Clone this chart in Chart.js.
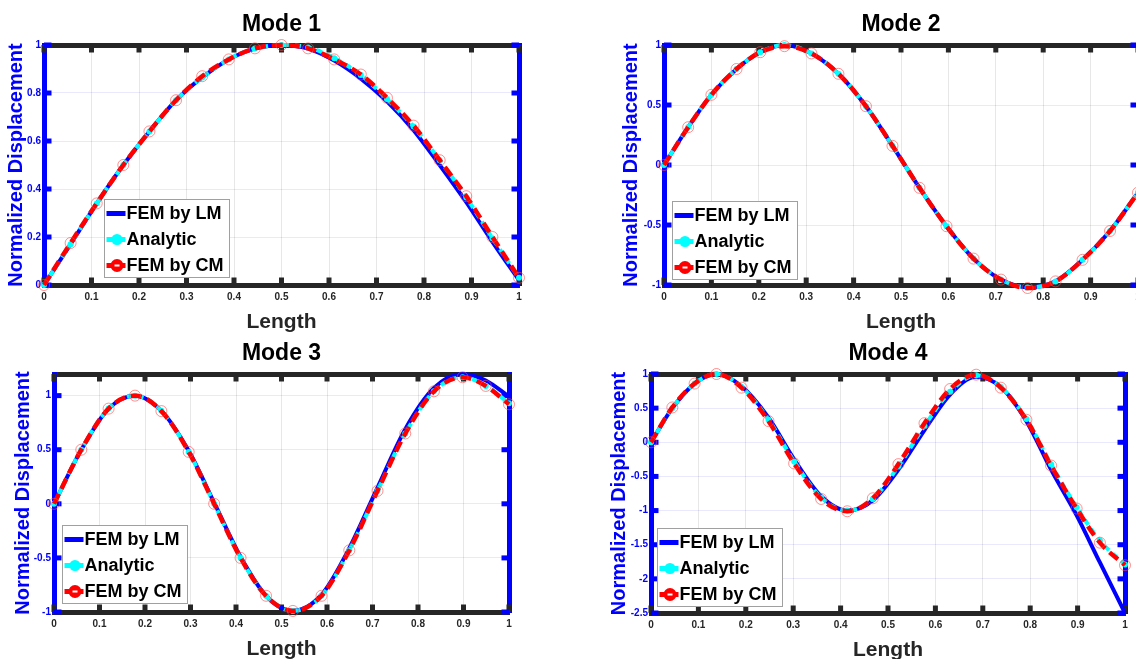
<!DOCTYPE html>
<html>
<head>
<meta charset="utf-8">
<script src="https://cdn.jsdelivr.net/npm/chart.js@4.4.0/dist/chart.umd.min.js"></script>
<style>
  html, body { margin: 0; padding: 0; background: #fff; width: 1136px; height: 659px; overflow: hidden; position: relative; }
  canvas { position: absolute; }
</style>
</head>
<body>
<canvas id="c1"></canvas>
<canvas id="c2"></canvas>
<canvas id="c3"></canvas>
<canvas id="c4"></canvas>
<script>
// ---------- data ----------
const seriesNames = ['FEM by LM', 'Analytic', 'FEM by CM'];
const xTicks = [0, 0.1, 0.2, 0.3, 0.4, 0.5, 0.6, 0.7, 0.8, 0.9, 1];

// Mode 1
const m1X  = [0, 0.056, 0.111, 0.167, 0.222, 0.278, 0.333, 0.389, 0.444, 0.5, 0.556, 0.611, 0.667, 0.722, 0.778, 0.833, 0.889, 0.944, 1];
const m1LM = [0, 0.17, 0.34, 0.50, 0.64, 0.77, 0.865, 0.94, 0.985, 1.0, 0.985, 0.935, 0.86, 0.765, 0.645, 0.50, 0.345, 0.18, 0.02];
const m1AN = [0, 0.17, 0.34, 0.50, 0.64, 0.77, 0.865, 0.94, 0.985, 1.0, 0.99, 0.945, 0.875, 0.775, 0.66, 0.52, 0.365, 0.195, 0.03];
const m1CM = [0, 0.175, 0.34, 0.50, 0.64, 0.77, 0.87, 0.94, 0.986, 1.0, 0.986, 0.94, 0.877, 0.78, 0.664, 0.52, 0.37, 0.20, 0.03];
const m1YT = [0, 0.2, 0.4, 0.6, 0.8, 1];

// Mode 2
const m2X  = [0, 0.051, 0.1, 0.153, 0.203, 0.254, 0.311, 0.368, 0.426, 0.482, 0.539, 0.596, 0.653, 0.711, 0.767, 0.826, 0.883, 0.941, 1.0];
const m2LM = [0, 0.315, 0.585, 0.80, 0.94, 1.0, 0.93, 0.76, 0.49, 0.16, -0.19, -0.51, -0.78, -0.955, -1.02, -0.97, -0.79, -0.55, -0.23];
const m2AN = [0, 0.315, 0.585, 0.80, 0.94, 1.0, 0.93, 0.76, 0.49, 0.16, -0.19, -0.51, -0.78, -0.955, -1.02, -0.97, -0.79, -0.55, -0.23];
const m2CM = [0, 0.315, 0.585, 0.80, 0.94, 0.99, 0.93, 0.76, 0.49, 0.16, -0.19, -0.51, -0.78, -0.955, -1.025, -0.97, -0.79, -0.55, -0.23];
const m2YT = [-1, -0.5, 0, 0.5, 1];

// Mode 3
const m3X  = [0, 0.06, 0.12, 0.178, 0.236, 0.296, 0.352, 0.41, 0.466, 0.525, 0.588, 0.649, 0.711, 0.772, 0.835, 0.898, 0.949, 1.0];
const m3LM = [0, 0.50, 0.88, 1.0, 0.86, 0.49, 0.01, -0.49, -0.85, -0.99, -0.84, -0.41, 0.15, 0.69, 1.07, 1.2, 1.14, 0.99];
const m3AN = [0, 0.50, 0.88, 1.0, 0.86, 0.48, 0.0, -0.50, -0.85, -0.99, -0.85, -0.43, 0.12, 0.65, 1.04, 1.17, 1.09, 0.93];
const m3CM = [0, 0.50, 0.88, 1.0, 0.857, 0.48, 0.0, -0.50, -0.85, -0.99, -0.85, -0.43, 0.12, 0.65, 1.04, 1.17, 1.09, 0.92];
const m3YT = [-1, -0.5, 0, 0.5, 1];

// Mode 4
const m4X  = [0, 0.045, 0.092, 0.138, 0.191, 0.248, 0.302, 0.359, 0.414, 0.468, 0.522, 0.577, 0.631, 0.686, 0.738, 0.792, 0.844, 0.898, 0.947, 1.0];
const m4LM = [0, 0.50, 0.86, 1.0, 0.82, 0.36, -0.25, -0.79, -1.0, -0.85, -0.40, 0.18, 0.70, 0.96, 0.81, 0.31, -0.40, -1.07, -1.76, -2.5];
const m4AN = [0, 0.50, 0.86, 1.0, 0.81, 0.33, -0.28, -0.81, -1.0, -0.83, -0.35, 0.24, 0.74, 0.98, 0.81, 0.34, -0.32, -0.95, -1.44, -1.79];
const m4CM = [0, 0.51, 0.86, 1.0, 0.80, 0.31, -0.31, -0.83, -1.01, -0.82, -0.32, 0.28, 0.78, 0.99, 0.80, 0.33, -0.34, -0.97, -1.47, -1.80];
const m4YT = [-2.5, -2, -1.5, -1, -0.5, 0, 0.5, 1];

// ---------- layout (page pixels) ----------
const FONT = '"Liberation Sans", Arial, Helvetica, sans-serif';
Chart.defaults.font.family = FONT;

const panels = [
  { id: 'c1', title: 'Mode 1', x: m1X, lm: m1LM, an: m1AN, cm: m1CM, yMin: 0,    yMax: 1,   yT: m1YT,
    cx: 0,   cy: 0,   cw: 568, ch: 345, l: 44,  t: 45,  r: 519,  b: 285, yTitleX: 16,  lgx: 60, lgy: 8 },
  { id: 'c2', title: 'Mode 2', x: m2X, lm: m2LM, an: m2AN, cm: m2CM, yMin: -1,   yMax: 1,   yT: m2YT,
    cx: 568, cy: 0,   cw: 620, ch: 345, l: 664, t: 45,  r: 1138, b: 285, yTitleX: 631, lgx: 8,  lgy: 6 },
  { id: 'c3', title: 'Mode 3', x: m3X, lm: m3LM, an: m3AN, cm: m3CM, yMin: -1,   yMax: 1.2, yT: m3YT,
    cx: 0,   cy: 330, cw: 568, ch: 345, l: 54,  t: 374, r: 509,  b: 612, yTitleX: 23,  lgx: 8,  lgy: 9 },
  { id: 'c4', title: 'Mode 4', x: m4X, lm: m4LM, an: m4AN, cm: m4CM, yMin: -2.5, yMax: 1,   yT: m4YT,
    cx: 568, cy: 330, cw: 620, ch: 345, l: 651, t: 374, r: 1125, b: 613, yTitleX: 619, lgx: 6,  lgy: 7 }
];

// ---------- plugins ----------
const inTicks = {
  id: 'inTicks',
  beforeDatasetsDraw(chart) {
    const a = chart.chartArea, ctx = chart.ctx, xs = chart.scales.x, ys = chart.scales.y;
    ctx.save();
    ctx.fillStyle = '#262626';
    xs.ticks.forEach(t => {
      const px = xs.getPixelForValue(t.value);
      ctx.fillRect(px - 2.5, a.top, 5, 7.5);
      ctx.fillRect(px - 2.5, a.bottom - 7.5, 5, 7.5);
    });
    ctx.fillStyle = '#0000ff';
    ys.ticks.forEach(t => {
      const py = ys.getPixelForValue(t.value);
      ctx.fillRect(a.left, py - 2.5, 7.5, 5);
      ctx.fillRect(a.right - 7.5, py - 2.5, 7.5, 5);
    });
    ctx.restore();
  }
};

const inLegend = {
  id: 'inLegend',
  afterDraw(chart, args, opts) {
    const ctx = chart.ctx, a = chart.chartArea;
    ctx.save();
    ctx.font = 'bold 18px ' + FONT;
    const ds = chart.data.datasets;
    const tw = Math.max(...ds.map(d => ctx.measureText(d.label).width));
    const w = Math.round(22 + tw + 6), h = 78;
    const x0 = Math.round(a.left + opts.dx) + 0.5, y0 = Math.round(a.bottom - opts.dy - h) + 0.5;
    ctx.fillStyle = '#ffffff';
    ctx.fillRect(x0, y0, w, h);
    ctx.strokeStyle = '#a0a0a0';
    ctx.lineWidth = 1;
    ctx.strokeRect(x0, y0, w, h);
    ds.forEach((d, i) => {
      const yy = y0 + 14 + i * 26;
      const sx1 = x0 + 2, sx2 = x0 + 21, mx = (sx1 + sx2) / 2;
      ctx.save();
      ctx.strokeStyle = d.borderColor;
      ctx.lineWidth = 5;
      ctx.beginPath(); ctx.moveTo(sx1, yy); ctx.lineTo(sx2, yy); ctx.stroke();
      if (i === 1) {
        ctx.fillStyle = d.borderColor;
        ctx.beginPath(); ctx.arc(mx + 1, yy, 5.5, 0, Math.PI * 2); ctx.fill();
      } else if (i === 2) {
        ctx.fillStyle = '#ff0000';
        ctx.beginPath(); ctx.arc(mx + 1, yy, 6.5, 0, Math.PI * 2); ctx.fill();
        ctx.fillStyle = '#ffffff';
        ctx.fillRect(mx - 1.5, yy - 1, 5, 2);
      }
      ctx.restore();
      ctx.fillStyle = '#000000';
      ctx.textBaseline = 'middle';
      ctx.textAlign = 'left';
      ctx.fillText(d.label, x0 + 22, yy + 1);
    });
    ctx.restore();
  }
};

function pts(xs, ys) { return xs.map((x, i) => ({ x: x, y: ys[i] })); }
function setTicks(arr) { return function (scale) { scale.ticks = arr.map(v => ({ value: v })); }; }

panels.forEach(p => {
  const cv = document.getElementById(p.id);
  cv.width = p.cw; cv.height = p.ch;
  cv.style.left = p.cx + 'px'; cv.style.top = p.cy + 'px';
  cv.style.width = p.cw + 'px'; cv.style.height = p.ch + 'px';

  const areaL = p.l - p.cx, areaT = p.t - p.cy, areaR = p.r - p.cx, areaB = p.b - p.cy;
  const XH = 50;
  const titleLH = 23 * 1.2;
  const titleTop = (areaT - 20.5) - titleLH / 2;
  const titleBottom = areaT - titleTop - titleLH;
  const yTitleLH = 20 * 1.2;

  new Chart(cv, {
    type: 'scatter',
    data: {
      datasets: [
        { label: seriesNames[0], data: pts(p.x, p.lm), showLine: true, borderColor: '#0000ff', borderWidth: 4,
          pointRadius: 0, cubicInterpolationMode: 'monotone', order: 3, clip: false },
        { label: seriesNames[1], data: pts(p.x, p.an), showLine: true, borderColor: '#00ffff', borderWidth: 4,
          borderDash: [6, 5], pointRadius: 3, pointBackgroundColor: '#00ffff', pointBorderWidth: 0,
          cubicInterpolationMode: 'monotone', order: 2, clip: false },
        { label: seriesNames[2], data: pts(p.x, p.cm), showLine: true, borderColor: '#ff0000', borderWidth: 4.5,
          borderDash: [11, 6], pointRadius: 5.5, pointBackgroundColor: 'rgba(0,0,0,0)',
          pointBorderColor: 'rgba(255,70,70,0.6)', pointBorderWidth: 1,
          cubicInterpolationMode: 'monotone', order: 1, clip: false }
      ]
    },
    options: {
      responsive: false,
      devicePixelRatio: 1,
      animation: false,
      events: [],
      layout: { padding: { left: 0, top: 0, right: p.cw - areaR, bottom: p.ch - areaB - XH } },
      plugins: {
        legend: { display: false },
        tooltip: { enabled: false },
        title: {
          display: true, text: p.title, fullSize: false, color: '#000000',
          font: { size: 23, weight: 'bold', family: FONT, lineHeight: 1.2 },
          padding: { top: titleTop, bottom: titleBottom }
        },
        inLegend: { dx: p.lgx, dy: p.lgy }
      },
      scales: {
        x: {
          type: 'linear', position: 'bottom', min: 0, max: 1,
          afterBuildTicks: setTicks(xTicks),
          afterFit: s => { s.height = XH; },
          grid: { color: 'rgba(38,38,38,0.11)', lineWidth: 1, drawTicks: false },
          border: { display: true, color: '#262626', width: 5 },
          ticks: { color: '#262626', font: { size: 10, weight: 'bold', family: FONT }, padding: 6,
                   autoSkip: false, maxRotation: 0, callback: v => String(v) },
          title: { display: true, text: 'Length', color: '#262626',
                   font: { size: 21, weight: 'bold', family: FONT, lineHeight: 1.2 }, padding: { top: 0, bottom: 0 } }
        },
        x2: {
          type: 'linear', position: 'top', min: 0, max: 1,
          afterBuildTicks: setTicks(xTicks),
          afterFit: s => { s.height = 0; },
          grid: { drawOnChartArea: false, drawTicks: false },
          border: { display: true, color: '#262626', width: 5 },
          ticks: { display: false }
        },
        y: {
          type: 'linear', position: 'left', min: p.yMin, max: p.yMax,
          afterBuildTicks: setTicks(p.yT),
          afterFit: s => { s.width = areaL; },
          grid: { color: 'rgba(0,0,255,0.09)', lineWidth: 1, drawTicks: false },
          border: { display: true, color: '#0000ff', width: 5 },
          ticks: { color: '#0000ff', font: { size: 10, weight: 'bold', family: FONT }, padding: 3,
                   autoSkip: false, callback: v => String(v) },
          title: { display: true, text: 'Normalized Displacement', color: '#0000ff',
                   font: { size: 20, weight: 'bold', family: FONT, lineHeight: 1.2 },
                   padding: { top: (p.yTitleX - p.cx) - yTitleLH / 2, bottom: 0 } }
        },
        y2: {
          type: 'linear', position: 'right', min: p.yMin, max: p.yMax,
          afterBuildTicks: setTicks(p.yT),
          afterFit: s => { s.width = 0; },
          grid: { drawOnChartArea: false, drawTicks: false },
          border: { display: true, color: '#0000ff', width: 5 },
          ticks: { display: false }
        }
      }
    },
    plugins: [inTicks, inLegend]
  });
});
</script>
</body>
</html>
